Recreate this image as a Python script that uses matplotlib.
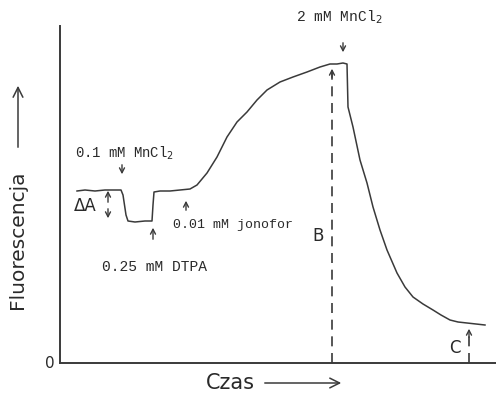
import matplotlib
matplotlib.use("Agg")
import matplotlib.pyplot as plt
from matplotlib.patches import FancyArrowPatch

# Fluorescence trace (arbitrary units)
czas = [17, 25, 35, 45, 55, 61, 63, 66, 68, 75, 85, 92, 93, 94, 100, 110, 120,
        130, 137, 147, 157, 167, 177, 187, 197, 207, 220, 233, 247, 260, 270,
        277, 283, 287, 288, 293, 300, 307, 313, 320, 327, 337, 345, 353, 363,
        373, 381, 390, 398, 407, 416, 425]
fluor = [172, 173, 172, 173, 173, 173, 168, 148, 142, 141, 142, 142, 158, 171,
         172, 172, 173, 174, 178, 190, 206, 226, 241, 251, 263, 273, 281, 286,
         291, 296, 299, 299, 300, 299, 256, 236, 203, 180, 156, 133, 113, 90,
         76, 66, 59, 53, 48, 43, 41, 40, 39, 38]

# Markers B and C (time, level)
t_B, f_B = 272, 297
t_C, f_C = 409, 37

LINE = "#3a3a3a"
TXT = "#2a2a2a"
MONO = "Liberation Mono"

fig = plt.figure(figsize=(4.96, 3.95), dpi=100)
ax = fig.add_axes([60 / 496, 32 / 395, 436 / 496, 337 / 395])
ax.set_xlim(0, 436)
ax.set_ylim(0, 337)
ax.set_xticks([])
ax.set_yticks([])
for s in ["top", "right"]:
    ax.spines[s].set_visible(False)
for s in ["left", "bottom"]:
    ax.spines[s].set_linewidth(1.4)
    ax.spines[s].set_color(LINE)

ax.plot(czas, fluor, color=LINE, lw=1.1)

# dashed markers with small arrowheads at the trace
arr = dict(arrowstyle="->,head_length=0.35,head_width=0.18", color=LINE, lw=1.0)
ax.plot([t_B, t_B], [0, f_B - 6], color=LINE, lw=1.2, dashes=(6, 4))
ax.annotate("", xy=(t_B, f_B), xytext=(t_B, f_B - 14), arrowprops=arr)
ax.plot([t_C, t_C], [0, f_C - 6], color=LINE, lw=1.2, dashes=(6, 4))
ax.annotate("", xy=(t_C, f_C), xytext=(t_C, f_C - 14), arrowprops=arr)
ax.text(t_B - 14, 127, "B", fontsize=12, color=TXT, ha="center", va="center")
ax.text(t_C - 14, 15, "C", fontsize=12, color=TXT, ha="center", va="center")

# additions
ax.text(15, 210, "0.1 mM MnCl$_2$", family=MONO, fontsize=10, color=TXT,
        ha="left", va="center")
ax.annotate("", xy=(62, 186), xytext=(62, 201), arrowprops=arr)

ax.text(14, 157, "\u0394A", fontsize=12, color=TXT, ha="left", va="center")
ax.annotate("", xy=(48, 175), xytext=(48, 158), arrowprops=arr)
ax.annotate("", xy=(48, 142), xytext=(48, 157), arrowprops=arr)

ax.annotate("", xy=(93, 138), xytext=(93, 121), arrowprops=arr)
ax.text(95, 96, "0.25 mM DTPA", family=MONO, fontsize=10.5, color=TXT,
        ha="center", va="center")

ax.annotate("", xy=(126, 165), xytext=(126, 150), arrowprops=arr)
ax.text(113, 138, "0.01 mM jonofor", family=MONO, fontsize=9.5, color=TXT,
        ha="left", va="center")

ax.text(236, 346, "2 mM MnCl$_2$", family=MONO, fontsize=10.5, color=TXT,
        ha="left", va="center", clip_on=False)
ax.annotate("", xy=(283, 308), xytext=(283, 323), arrowprops=arr,
            annotation_clip=False)

ax.text(-10, 0, "0", fontsize=11, color=TXT, ha="center", va="center",
        clip_on=False)

# axis labels with long arrows
fig.text(18 / 496, 1 - 240 / 395, "Fluorescencja", rotation=90, fontsize=14.5,
         color=TXT, ha="center", va="center")
fig.text(230 / 496, 12 / 395, "Czas", fontsize=15, color=TXT,
         ha="center", va="center")
big = dict(arrowstyle="->,head_length=0.5,head_width=0.25", color=LINE,
           lw=1.1, mutation_scale=14)
fig.add_artist(FancyArrowPatch((18 / 496, 1 - 150 / 395),
                               (18 / 496, 1 - 83 / 395),
                               transform=fig.transFigure, **big))
fig.add_artist(FancyArrowPatch((262 / 496, 12 / 395), (344 / 496, 12 / 395),
                               transform=fig.transFigure, **big))

fig.savefig("out.png", dpi=100)
